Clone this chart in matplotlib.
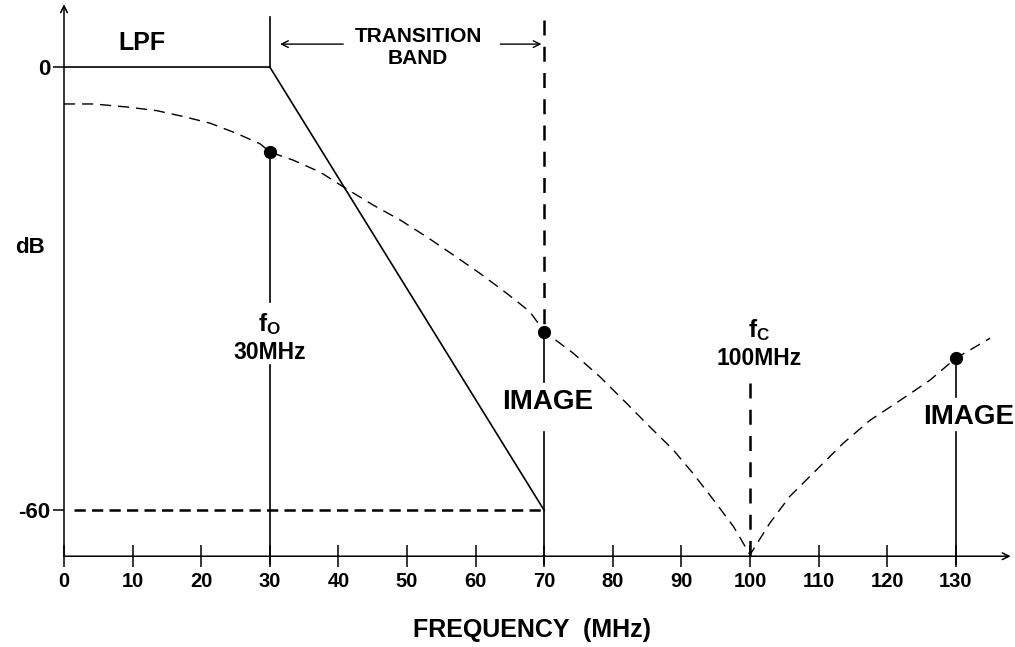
import matplotlib
matplotlib.use("Agg")
import matplotlib.pyplot as plt

plt.rcParams["font.family"] = ["Liberation Sans", "DejaVu Sans"]
plt.rcParams["font.weight"] = "bold"
plt.rcParams["mathtext.fontset"] = "custom"
plt.rcParams["mathtext.rm"] = "Liberation Sans:bold"
plt.rcParams["mathtext.it"] = "Liberation Sans:bold"
plt.rcParams["mathtext.bf"] = "Liberation Sans:bold"

# dashed response curve
curve_freq = [0.0, 4.3, 9.1, 13.5, 17.4, 21.3, 25.2, 28.6, 30.0, 33.4, 37.3,
              41.2, 45.1, 49.0, 52.9, 56.7, 60.6, 64.5, 67.9, 70.0, 74.2,
              78.1, 82.0, 85.4, 88.8, 91.7, 94.7, 97.6, 100.0, 102.9, 105.8,
              109.7, 113.6, 117.5, 121.9, 126.2, 130.0, 135.0]
curve_db = [-5.0, -5.0, -5.4, -5.9, -6.7, -7.6, -9.0, -10.4, -11.5, -12.6, -14.2,
            -16.5, -18.7, -20.7, -23.0, -25.4, -27.9, -30.6, -33.1, -35.8, -38.7,
            -41.9, -45.5, -48.7, -51.8, -55.0, -58.6, -62.2, -66.0, -61.7, -58.1,
            -54.5, -50.9, -47.8, -45.1, -42.4, -39.4, -36.7]

# low pass filter mask
lpf_freq = [0, 30, 70]
lpf_db = [0, 0, -60]

# image / fundamental markers
marker_freq = [30, 70, 130]
marker_db = [-11.5, -35.8, -39.4]

x_ticks = list(range(0, 131, 10))
y_ticks = [0, -60]
y_ticklabels = ["0", "-60"]

XMIN, XMAX = 0, 138
YMIN, YMAX = -66.2, 8.5

fig = plt.figure(figsize=(10.15, 6.47), dpi=100)
ax = fig.add_axes([64 / 1015, 0.1403, 946.7 / 1015, 0.8532])
ax.set_xlim(XMIN, XMAX)
ax.set_ylim(YMIN, YMAX)
for s in ax.spines.values():
    s.set_visible(False)

# axes with arrows
ax.annotate("", xy=(XMAX, YMIN), xytext=(0, YMIN), annotation_clip=False,
            arrowprops=dict(arrowstyle="->", lw=1.1, color="black",
                            mutation_scale=12, shrinkA=0, shrinkB=0))
ax.annotate("", xy=(0, YMAX), xytext=(0, YMIN), annotation_clip=False,
            arrowprops=dict(arrowstyle="->", lw=1.1, color="black",
                            mutation_scale=12, shrinkA=0, shrinkB=0))

ax.set_xticks(x_ticks)
ax.set_xticklabels([str(v) for v in x_ticks], fontsize=14.5, fontweight="bold")
ax.tick_params(axis="x", direction="inout", length=16, width=1.1, pad=3)
ax.set_yticks(y_ticks)
ax.set_yticklabels(y_ticklabels, fontsize=16, fontweight="bold")
ax.tick_params(axis="y", direction="out", length=8, width=1.1, pad=2)

fig.text(532 / 1015, 1 - 630 / 647, "FREQUENCY  (MHz)", fontsize=18,
         fontweight="bold", ha="center", va="center")
ax.text(-5.0, -24.4, "dB", fontsize=16, fontweight="bold", ha="center", va="center")

# LPF mask
ax.plot(lpf_freq, lpf_db, color="black", lw=1.2, solid_joinstyle="miter")
ax.plot([30, 30], [0, 6.8], color="black", lw=1.2)
ax.plot([1.5, 70], [-60, -60], color="black", lw=1.8, dashes=(4.5, 2.5))
ax.text(11.4, 3.3, "LPF", fontsize=18, fontweight="bold", ha="center", va="center")

# transition band
ax.text(51.6, 2.6, "TRANSITION\nBAND", fontsize=15, fontweight="bold",
        ha="center", va="center", linespacing=1.2)
ax.annotate("", xy=(31.5, 3.1), xytext=(40.7, 3.1),
            arrowprops=dict(arrowstyle="->", lw=1.0, color="black",
                            mutation_scale=12, shrinkA=0, shrinkB=0))
ax.annotate("", xy=(69.6, 3.1), xytext=(63.6, 3.1),
            arrowprops=dict(arrowstyle="->", lw=1.0, color="black",
                            mutation_scale=12, shrinkA=0, shrinkB=0))

# dashed response
ax.plot(curve_freq, curve_db, color="black", lw=1.0, dashes=(8, 5))

# vertical markers
bottom = -67.2
ax.plot([30, 30], [marker_db[0], -31.8], color="black", lw=1.2, clip_on=False)
ax.plot([30, 30], [-40.3, bottom], color="black", lw=1.2, clip_on=False)
ax.text(30, -34.8, r"f$_{\rm O}$", fontsize=17.5, ha="center", va="center")
ax.text(30, -38.6, "30MHz", fontsize=16.5, fontweight="bold", ha="center", va="center")

ax.plot([70, 70], [6.4, marker_db[1]], color="black", lw=1.8, dashes=(6, 4.5))
ax.plot([70, 70], [marker_db[1], -42.6], color="black", lw=1.2)
ax.plot([70, 70], [-49.4, bottom], color="black", lw=1.2, clip_on=False)
ax.text(70.5, -45.3, "IMAGE", fontsize=20, fontweight="bold", ha="center", va="center")

ax.plot([100, 100], [-42.8, YMIN], color="black", lw=1.8, dashes=(6, 4.5))
ax.text(101.3, -35.6, r"f$_{\rm C}$", fontsize=17.5, ha="center", va="center")
ax.text(101.3, -39.4, "100MHz", fontsize=16.5, fontweight="bold", ha="center", va="center")

ax.plot([130, 130], [marker_db[2], -44.7], color="black", lw=1.2)
ax.plot([130, 130], [-49.4, bottom], color="black", lw=1.2, clip_on=False)
ax.text(131.9, -47.4, "IMAGE", fontsize=20, fontweight="bold", ha="center", va="center")

ax.plot(marker_freq, marker_db, "o", color="black", markersize=8.5, zorder=5)

fig.savefig("out.png", dpi=100)
